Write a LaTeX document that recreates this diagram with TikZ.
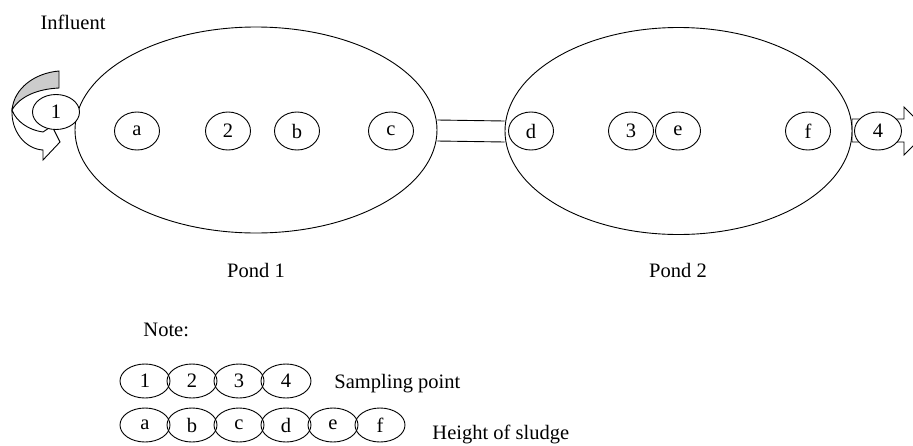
\documentclass[tikz,border=0pt]{standalone}
\usepackage{fontspec}
\setmainfont{Liberation Serif}
\usetikzlibrary{shapes.geometric}
\begin{document}
\begin{tikzpicture}[x=1pt,y=-1pt,
  font=\fontsize{20.5}{24}\selectfont,
  line width=0.9pt,
  pond/.style={draw, ellipse, fill=white, inner sep=0pt},
  spot/.style={draw, ellipse, fill=white, minimum width=45pt, minimum height=38pt, inner sep=0pt},
  key/.style={draw, ellipse, minimum width=50pt, minimum height=34pt, inner sep=0pt},
  lbl/.style={inner sep=0pt}]
\useasboundingbox (0,0) rectangle (913,445);
\clip (0,0) rectangle (913,445);

% influent: twisted ribbon arrow (back face shaded, front face white)
\filldraw[fill=gray!40] (59,71) .. controls (35,73) and (14,88) .. (12,110)
  .. controls (20,96) and (38,89) .. (59,88) -- cycle;
\filldraw[fill=white] (12,110) .. controls (11,131) and (25,149) .. (43,150)
  -- (43,160) -- (60,142) -- (52,126) -- (43,132)
  .. controls (28,130) and (16,121) .. (12,110) -- cycle;

% effluent: block arrow leaving pond 2
\filldraw[fill=white] (852,119) -- (904,119) -- (904,107) -- (928,131)
  -- (904,155) -- (904,142) -- (852,142) -- cycle;

% ponds
\node[pond, minimum width=362pt, minimum height=206pt] (pond1) at (256,130) {};
\node[pond, minimum width=347pt, minimum height=207pt] (pond2) at (678.5,131) {};

% pipe joining the ponds
\draw ([yshift=10pt]pond1.east) -- ([yshift=10pt]pond2.west);
\draw ([yshift=-11pt]pond1.east) -- ([yshift=-11pt]pond2.west);

% sampling points and sludge height points
\node[spot, minimum width=47pt, minimum height=35pt] (s1) at (56,112) {1};
\node[spot] (pa) at (137,131) {a};
\node[spot] (s2) at (228,131) {2};
\node[spot] (pb) at (297,131) {b};
\node[spot] (pc) at (391,131) {c};
\node[spot] (pd) at (531,131) {d};
\node[spot] (s3) at (631,131) {3};
\node[spot] (pe) at (678,131) {e};
\node[spot] (pf) at (808,131) {f};
\node[spot, minimum width=47pt] (s4) at (878,131) {4};

% labels
\node[lbl, anchor=base] (influent) at (73,29) {Influent};
\node[lbl, anchor=base] (p1lbl) at (256,277) {Pond 1};
\node[lbl, anchor=base] (p2lbl) at (678,277) {Pond 2};

% legend
\node[lbl, anchor=base west] (note) at (143,336) {Note:};
\node[key] (k1) at (145,381) {1};
\node[key] (k2) at (192,381) {2};
\node[key] (k3) at (239,381) {3};
\node[key] (k4) at (286,381) {4};
\node[lbl, anchor=base west] (ksamp) at (334,388) {Sampling point};
\node[key] (ka) at (145,425) {a};
\node[key] (kb) at (192,425) {b};
\node[key] (kc) at (239,425) {c};
\node[key] (kd) at (286,425) {d};
\node[key] (ke) at (333,425) {e};
\node[key] (kf) at (380,425) {f};
\node[lbl, anchor=base west] (kheight) at (432,439) {Height of sludge};
\end{tikzpicture}
\end{document}
